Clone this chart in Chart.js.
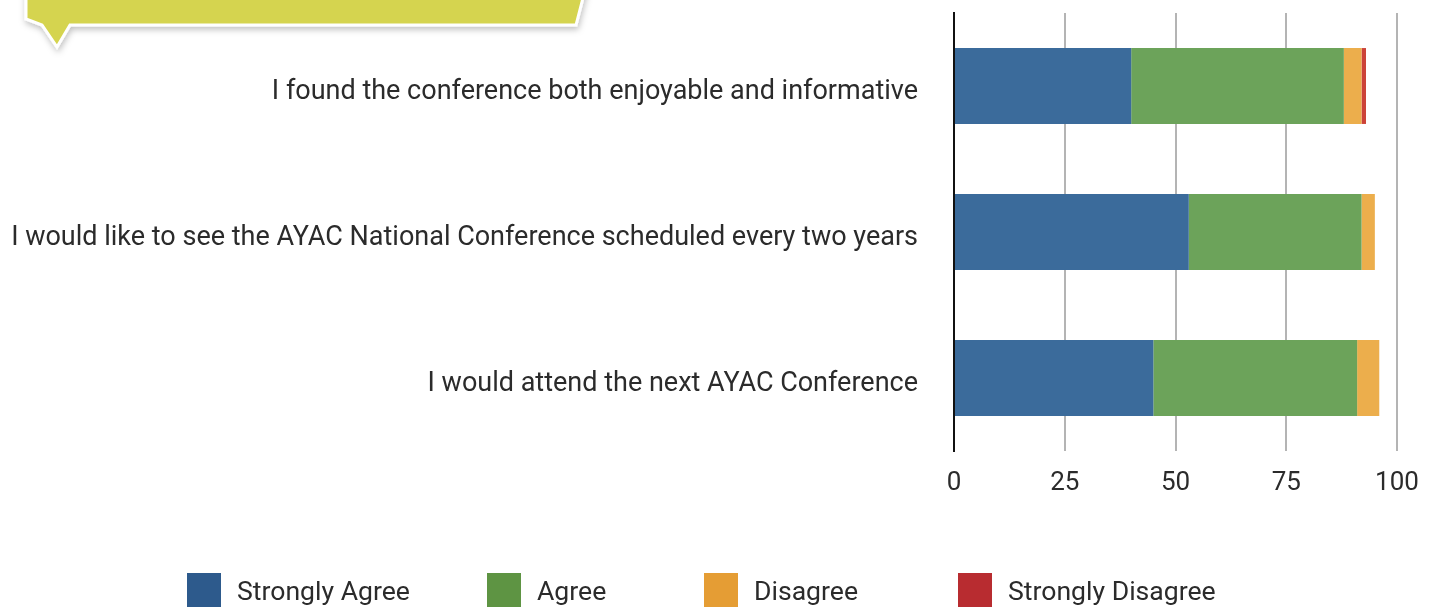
<!DOCTYPE html>
<html>
<head>
<meta charset="utf-8">
<script src="https://cdn.jsdelivr.net/npm/chart.js@4.4.0/dist/chart.umd.min.js"></script>
<style>
    html, body { margin: 0; padding: 0; background: #fff; }
    #wrap { position: relative; width: 1436px; height: 607px; overflow: hidden; }
    #surveyChart { position: absolute; left: 0; top: 0; }
    #callout { position: absolute; left: 0; top: 0; }
    .legend-item { position: absolute; top: 573px; height: 34px; display: flex; align-items: center;
        font-family: Roboto, sans-serif; font-size: 26.6px; color: #2b2b2b; white-space: nowrap; }
    .legend-item span.box { display: inline-block; width: 34px; height: 34px; margin-right: 16px; }
</style>
</head>
<body>
<div id="wrap">
    <svg id="callout" width="620" height="70">
        <defs>
            <filter id="shadow" x="-10%" y="-50%" width="120%" height="200%">
                <feDropShadow dx="1" dy="3" stdDeviation="3" flood-color="#000" flood-opacity="0.25"/>
            </filter>
        </defs>
        <polygon points="26,-10 26,19 42,25 57,47 70,25 576,25 585,-10"
                 fill="#d5d44f" stroke="#ffffff" stroke-width="3" filter="url(#shadow)"/>
    </svg>
    <canvas id="surveyChart" width="1436" height="607"></canvas>
    <div id="legend"></div>
</div>
<script>
// Survey statements (top to bottom)
const statements = [
    'I found the conference both enjoyable and informative',
    'I would like to see the AYAC National Conference scheduled every two years',
    'I would attend the next AYAC Conference'
];

const seriesNames = ['Strongly Agree', 'Agree', 'Disagree', 'Strongly Disagree'];

// Percentages per statement
const stronglyAgree = [40, 53, 45];
const agree = [48, 39, 46];
const disagree = [4, 3, 5];
const stronglyDisagree = [1, 0, 0];

const xTicks = [0, 25, 50, 75, 100];

const barColors = ['#3b6b9b', '#6ca35a', '#ecae4c', '#cc4339'];
const legendColors = ['#2d5a8c', '#5e9443', '#e59d34', '#b82c30'];
const legendX = [187, 487, 704, 958];

const seriesValues = [stronglyAgree, agree, disagree, stronglyDisagree];

function buildLegend() {
    const legend = document.getElementById('legend');
    legend.innerHTML = seriesNames.map((name, i) => `
        <div class="legend-item" style="left:${legendX[i]}px">
            <span class="box" style="background:${legendColors[i]}"></span>${name}
        </div>
    `).join('');
}

function loadSurveyChart() {
    const ctx = document.getElementById('surveyChart');

    new Chart(ctx, {
        type: 'bar',
        data: {
            labels: statements,
            datasets: seriesNames.map((name, i) => ({
                label: name,
                data: seriesValues[i],
                backgroundColor: barColors[i],
                borderWidth: 0,
                barPercentage: 0.52,
                categoryPercentage: 1
            }))
        },
        options: {
            indexAxis: 'y',
            responsive: false,
            animation: false,
            layout: {
                padding: { left: 0, right: 39, top: 13, bottom: 106 }
            },
            plugins: {
                legend: { display: false },
                tooltip: { enabled: false }
            },
            scales: {
                x: {
                    stacked: true,
                    min: 0,
                    max: 100,
                    afterBuildTicks: scale => {
                        scale.ticks = xTicks.map(v => ({ value: v }));
                    },
                    afterFit: scale => { scale.height = 50; },
                    grid: {
                        color: '#b4b4b4',
                        lineWidth: 2,
                        drawTicks: false
                    },
                    border: { display: false },
                    ticks: {
                        padding: 17,
                        color: '#2b2b2b',
                        font: { family: 'Roboto', size: 26 }
                    }
                },
                y: {
                    stacked: true,
                    afterFit: scale => {
                        scale.width = 954;
                        // labels sit inside their bands, no overhang needed
                        scale.paddingTop = 0;
                        scale.paddingBottom = 0;
                    },
                    grid: { display: false, drawTicks: false },
                    border: { display: true, color: '#111', width: 2 },
                    ticks: {
                        padding: 36,
                        labelOffset: 6,
                        color: '#2b2b2b',
                        font: { family: 'Roboto', size: 27 }
                    }
                }
            }
        }
    });
}

buildLegend();
loadSurveyChart();
</script>
</body>
</html>
